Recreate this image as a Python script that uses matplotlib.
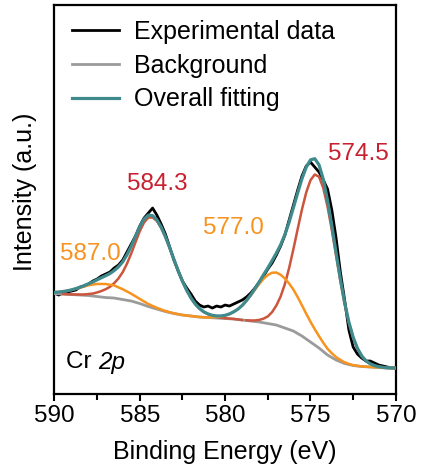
import numpy as np
import matplotlib
matplotlib.use("Agg")
import matplotlib.pyplot as plt

plt.rcParams["font.family"] = ["Liberation Sans", "DejaVu Sans"]

# binding energy grid of the measured spectrum and of the envelope (590 -> 570 eV, 0.25 eV step)
energy = np.linspace(590, 570, 81)

experimental = [
    101, 99, 101, 102, 103, 104, 107, 108, 110, 113, 115, 118, 120, 122, 126, 129, 134, 142, 150, 158, 168,
    176, 181, 186, 179, 170, 160, 147, 134, 123, 113, 106, 100, 93, 89, 87, 88, 86, 88, 87, 89,
    88, 90, 92, 94, 97, 101, 106, 112, 118, 125, 131, 139, 148, 159, 174, 189, 204, 218, 228, 232,
    227, 222, 214, 205, 184, 156, 122, 94, 64, 47, 40, 36, 33, 33, 31, 29, 28, 27, 26, 26,
]

overall_fit = [
    101.7, 102, 102.5, 103.2, 104.2, 105.4, 106.8, 108.5, 110.3, 112.1, 114.2, 116.3, 118.3, 120.5, 123.5,
    127.2, 132.2, 139.3, 147.9, 157.8, 167.5,
    175, 178.9, 178.4, 174.3, 167, 157.5, 146.4, 134.7, 123.3, 112.7, 103.6, 96.1, 90, 85.5, 82.2, 80.1,
    78.7, 78.1, 78.1, 78.7,
    80.1, 82.2, 84.9, 88.6, 93.5, 99.1, 105.5, 112.2, 119.3, 126.1, 133.4, 141, 149.2, 159.5, 172, 186.4,
    201.2, 215.3, 226.9, 234.2,
    235.4, 229.2, 214.7, 193.5, 168.4, 141.3, 115.1, 91.4, 71.9, 56.7, 45.7, 38.1, 33.2, 30.2, 28.4, 27.3,
    26.7, 26.2, 26.1, 26,
]

# Shirley background (0.5 eV step)
bg_energy = np.linspace(590, 570, 41)
background = [
    100.5, 100, 99.5, 99, 98.5, 97.5, 96.5, 96, 94.5, 93, 90.5, 87.5, 85, 82.5, 80.5, 79, 78, 77, 76.5, 76,
    75.5, 75, 74, 73, 72, 70.5, 69, 66, 63, 58, 52, 46, 39, 34, 30.5, 28.5, 27.5, 27, 26.5, 26, 26,
]

# fitted components
sat1_energy = np.linspace(590, 581, 19)
sat1 = [101.7, 102.5, 104.1, 106.3, 108.8, 110.1, 110, 108.6, 104.8, 100.3, 95.1, 90, 86.2, 83, 80.7,
        79, 78, 77, 76.5]

p12_energy = [589.5, 589, 588.5, 588.25, 588, 587.75, 587.5, 587.25, 587, 586.75, 586.5, 586.25, 586,
              585.75, 585.5, 585.25, 585, 584.75, 584.5, 584.25, 584, 583.75, 583.5, 583.25, 583,
              582.75, 582.5, 582.25, 582, 581.75, 581.5, 581.25, 581, 580.75, 580.5, 580.25, 580,
              579.5, 579]
p12 = [100, 99.6, 99.5, 99.6, 100, 100.5, 101.6, 103, 104.8, 107.2, 110.9, 115.6, 121.9, 130.4, 140.6,
       151.9, 162.9, 171.6, 176.4, 176.6, 173.1, 166.2, 157, 146.1, 134.5, 123.2, 112.7, 103.6, 96,
       89.9, 85.3, 82, 79.8, 78.1, 77.1, 76.3, 75.8, 75.1, 74]

sat2_energy = [581, 580.75, 580.5, 580.25, 580, 579.75, 579.5, 579.25, 579, 578.75, 578.5, 578.25, 578,
               577.75, 577.5, 577.25, 577, 576.75, 576.5, 576.25, 576, 575.75, 575.5, 575.25, 575,
               574.75, 574.5, 574.25, 574, 573.75, 573.5, 573.25, 573, 572.75, 572.5, 572.25, 572,
               571.5, 571, 570.5, 570]
sat2 = [76.8, 76.8, 77, 77.5, 78.4, 79.9, 82.1, 84.9, 88.6, 93.2, 98.6, 104.4, 110.1, 115.2, 119, 121.3,
        121.5, 119.3, 115.5, 110.5, 104.4, 96.9, 88.7, 80.3, 72.3, 64.8, 57.9, 51.2, 45.2, 40.8, 36.9,
        34.1, 31.7, 30.1, 28.9, 28.2, 27.6, 27, 26.5, 26, 26]

p32_energy = np.linspace(578.75, 570, 36)
p32 = [73.8, 73.5, 73.6, 74.1, 75.4, 77.6, 81.9, 88.5, 97.5, 110, 126.1, 145, 165, 184.6, 201.6, 213.9,
       219.6, 217.3, 206, 187.3, 164.1, 138.4, 113.2, 90.2, 71.2, 56.3, 45.5, 38, 33.2, 30.2, 28.4,
       27.3, 26.7, 26.2, 26.1, 26]

peak_labels = [("584.3", 584.0, 210, "#C8202F"), ("587.0", 587.9, 140, "#F7931E"),
               ("577.0", 579.5, 166, "#F7931E"), ("574.5", 572.2, 240, "#C8202F")]

fig = plt.figure(figsize=(4.22, 4.66), dpi=100)
ax = fig.add_axes([0.129, 0.1545, 0.809, 0.8345])

ax.plot(energy, experimental, color="black", lw=2.0, label="Experimental data", zorder=2)
ax.plot(bg_energy, background, color="#9B9B9B", lw=2.0, label="Background", zorder=3)
ax.plot(sat1_energy, sat1, color="#F7931E", lw=1.8, zorder=4)
ax.plot(sat2_energy, sat2, color="#F7931E", lw=1.8, zorder=4)
ax.plot(p12_energy, p12, color="#CC553D", lw=1.8, zorder=3.5)
ax.plot(p32_energy, p32, color="#CC553D", lw=1.8, zorder=3.5)
ax.plot(energy, overall_fit, color="#3F8A8C", lw=2.3, label="Overall fitting", zorder=5)

for txt, x, y, c in peak_labels:
    ax.text(x, y, txt, color=c, fontsize=17.5, ha="center", va="center")

ax.text(589.3, 32, "Cr ", fontsize=17.5, ha="left", va="center")
ax.text(587.45, 32, "2p", fontsize=17.5, ha="left", va="center", style="italic")

ax.set_xlim(590, 570)
ax.set_ylim(0, 389)
ax.set_xticks([590, 585, 580, 575, 570])
ax.set_xticks([587.5, 582.5, 577.5, 572.5], minor=True)
ax.set_yticks([])
ax.tick_params(axis="x", which="major", direction="out", length=5, width=1.5, labelsize=17.5, pad=3)
ax.tick_params(axis="x", which="minor", direction="out", length=4, width=1.5)
for s in ax.spines.values():
    s.set_linewidth(1.6)

ax.set_xlabel("Binding Energy (eV)", fontsize=18)
ax.xaxis.set_label_coords(0.5, -0.118)
ax.set_ylabel("Intensity (a.u.)", fontsize=18)
ax.yaxis.set_label_coords(-0.05, 0.52)

ax.legend(loc="upper left", bbox_to_anchor=(0.051, 0.962), frameon=False, fontsize=18,
          handlelength=1.9, handletextpad=0.6, labelspacing=0.39, borderpad=0, borderaxespad=0)

fig.savefig("out.png", dpi=100)
